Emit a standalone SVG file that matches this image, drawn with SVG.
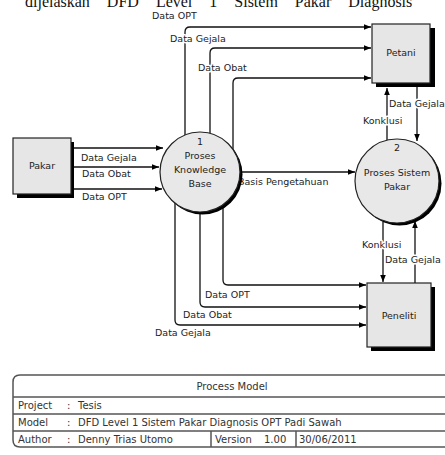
<svg xmlns="http://www.w3.org/2000/svg" width="445" height="455" viewBox="0 0 445 455">
<defs>
<marker id="ah" viewBox="0 0 10 10" refX="10" refY="5" markerWidth="8" markerHeight="7" orient="auto" markerUnits="userSpaceOnUse">
<path d="M0,1 L10,5 L0,9 z" fill="#000"/>
</marker>
<style>
.lbl{font-family:"DejaVu Sans",sans-serif;font-size:9.5px;fill:#222;paint-order:stroke;stroke:#fff;stroke-width:3px;stroke-linejoin:round}
.nt{font-family:"DejaVu Sans",sans-serif;font-size:9.5px;fill:#222;text-anchor:middle}
.tt{font-family:"DejaVu Sans",sans-serif;font-size:10px;fill:#333}
.box{fill:#e6e6e6;stroke:#222;stroke-width:1.2}
.sh{fill:#000}
.proc{fill:#e8e8e8;stroke:#222;stroke-width:1.2}
.c{fill:none;stroke:#111;stroke-width:1.3;marker-end:url(#ah)}
.tl{fill:none;stroke:#555;stroke-width:1.5}
</style>
</defs>
<rect width="445" height="455" fill="#fff"/>
<text x="25" y="6.5" font-family="Liberation Serif, serif" font-size="16" fill="#111" word-spacing="13">dijelaskan DFD Level 1 Sistem Pakar Diagnosis</text>

<g id="connectors">
<path class="c" d="M74,148 H163"/>
<path class="c" d="M74,167 H159"/>
<path class="c" d="M74,189 H162"/>
<path class="c" d="M185,136 V32 Q185,27 190,27 H371"/>
<path class="c" d="M210,133 V53 Q210,48 215,48 H371"/>
<path class="c" d="M233,150 V83 Q233,78 238,78 H371"/>
<path class="c" d="M223,204 V280 Q223,285 228,285 H366"/>
<path class="c" d="M200,212 V302 Q200,307 205,307 H366"/>
<path class="c" d="M175,203 V320 Q175,325 180,325 H366"/>
<path class="c" d="M240,172 H355"/>
<path class="c" d="M387,140 V88"/>
<path class="c" d="M417,83 V141"/>
<path class="c" d="M383,222 V282"/>
<path class="c" d="M415,283 V221"/>
<text class="lbl" x="81" y="161">Data Gejala</text>
<text class="lbl" x="82" y="177">Data Obat</text>
<text class="lbl" x="82" y="200">Data OPT</text>
<text class="lbl" x="152" y="19">Data OPT</text>
<text class="lbl" x="170" y="42">Data Gejala</text>
<text class="lbl" x="198" y="71">Data Obat</text>
<text class="lbl" x="238" y="185">Basis Pengetahuan</text>
<text class="lbl" x="363" y="124">Konklusi</text>
<text class="lbl" x="389" y="107">Data Gejala</text>
<text class="lbl" x="362" y="248">Konklusi</text>
<text class="lbl" x="385" y="263">Data Gejala</text>
<text class="lbl" x="205" y="298">Data OPT</text>
<text class="lbl" x="183" y="318">Data Obat</text>
<text class="lbl" x="155" y="336">Data Gejala</text>
</g>

<g id="petani">
<rect class="sh" x="376" y="28" width="59" height="59"/>
<rect class="box" x="372" y="24" width="58" height="59"/>
<text class="nt" x="401" y="56">Petani</text>
</g>
<g id="pakar">
<rect class="sh" x="17" y="142" width="57" height="56"/>
<rect class="box" x="13" y="138" width="58" height="56"/>
<text class="nt" x="42" y="169">Pakar</text>
</g>
<g id="peneliti">
<rect class="sh" x="371" y="287" width="64" height="64"/>
<rect class="box" x="367" y="283" width="64" height="64"/>
<text class="nt" x="399" y="319">Peneliti</text>
</g>
<g id="proses1">
<circle class="sh" cx="202.5" cy="174.5" r="40"/>
<circle class="proc" cx="200" cy="172" r="40"/>
<text class="nt" x="200" y="145">1</text>
<text class="nt" x="200" y="159">Proses</text>
<text class="nt" x="200" y="173">Knowledge</text>
<text class="nt" x="200" y="187">Base</text>
</g>
<g id="proses2">
<circle class="sh" cx="399.5" cy="183.5" r="42"/>
<circle class="proc" cx="397" cy="181" r="42"/>
<text class="nt" x="397" y="151">2</text>
<text class="nt" x="397" y="176">Proses Sistem</text>
<text class="nt" x="397" y="190">Pakar</text>
</g>

<g id="table">
<path class="tl" d="M450,375 H20 Q13,375 13,382 V440 Q13,447 20,447 H450"/>
<path class="tl" d="M13,397 H450 M13,414 H450 M13,431 H450 M211,431 V447 M296,431 V447"/>
<text class="tt" x="232" y="389.5" text-anchor="middle">Process Model</text>
<text class="tt" x="18" y="408.5">Project</text><text class="tt" x="67" y="408.5">:</text><text class="tt" x="78" y="408.5">Tesis</text>
<text class="tt" x="18" y="425.5">Model</text><text class="tt" x="67" y="425.5">:</text><text class="tt" x="78" y="425.5">DFD Level 1 Sistem Pakar Diagnosis OPT Padi Sawah</text>
<text class="tt" x="18" y="442.5">Author</text><text class="tt" x="67" y="442.5">:</text><text class="tt" x="78" y="442.5">Denny Trias Utomo</text>
<text class="tt" x="215" y="442.5">Version</text><text class="tt" x="264" y="442.5">1.00</text>
<text class="tt" x="299" y="442.5">30/06/2011</text>
</g>
</svg>
